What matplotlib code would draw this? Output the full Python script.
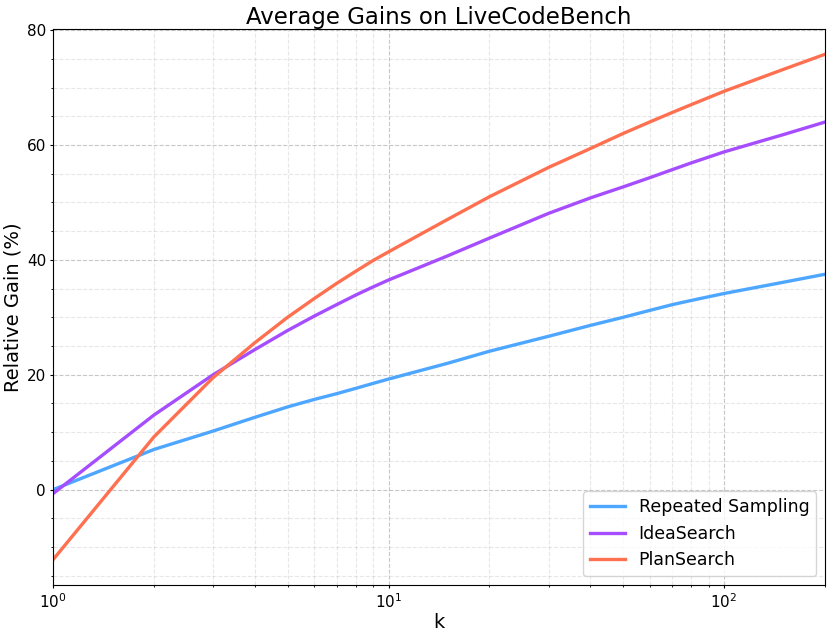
import numpy as np
import matplotlib
matplotlib.use('Agg')
import matplotlib.pyplot as plt
from matplotlib.ticker import MultipleLocator

# k values and relative gains (%)
k = [1, 2, 3, 4, 5, 6, 7, 8, 9, 10, 15, 20, 30, 40, 50, 60, 70, 80, 100, 150, 200]
repeated = [0.0, 7.0, 10.2, 12.6, 14.4, 15.7, 16.7, 17.65, 18.5, 19.25, 22.0,
            24.1, 26.7, 28.6, 30.0, 31.2, 32.2, 32.95, 34.15, 36.1, 37.5]
idea = [-0.7, 13.0, 20.0, 24.4, 27.7, 30.2, 32.2, 33.9, 35.3, 36.5, 40.7,
        43.8, 48.1, 50.8, 52.7, 54.3, 55.7, 56.9, 58.8, 61.8, 64.0]
plan = [-12.2, 9.2, 19.5, 25.6, 30.0, 33.25, 35.9, 38.05, 39.9, 41.4, 47.05,
        51.0, 56.1, 59.4, 62.0, 64.0, 65.65, 67.05, 69.35, 73.15, 75.8]

fig = plt.figure(figsize=(8.31, 6.35), dpi=100)
ax = fig.add_axes([53 / 831, 1 - 585 / 635, (825 - 53) / 831, (585 - 29) / 635])

ax.plot(k, repeated, color='#4DA6FF', lw=2.4, label='Repeated Sampling')
ax.plot(k, idea, color='#A64DFF', lw=2.4, label='IdeaSearch')
ax.plot(k, plan, color='#FF7050', lw=2.4, label='PlanSearch')

ax.set_xscale('log')
ax.set_xlim(1, 200)
ax.yaxis.set_minor_locator(MultipleLocator(5))
ax.yaxis.set_major_locator(MultipleLocator(20))

ax.grid(True, which='major', linestyle='--', color='#b0b0b0', alpha=0.7)
ax.grid(True, which='minor', linestyle='--', color='#b0b0b0', alpha=0.3)

ax.set_title('Average Gains on LiveCodeBench', fontsize=16.5, pad=3)
ax.set_xlabel('k', fontsize=14, labelpad=2)
ax.set_ylabel('Relative Gain (%)', fontsize=14, labelpad=3)
ax.tick_params(which='major', labelsize=11, length=2.5, pad=2.5)
ax.tick_params(which='minor', length=1.5)
ax.legend(loc='lower right', fontsize=12.5)

plt.savefig('out.png', dpi=100)
